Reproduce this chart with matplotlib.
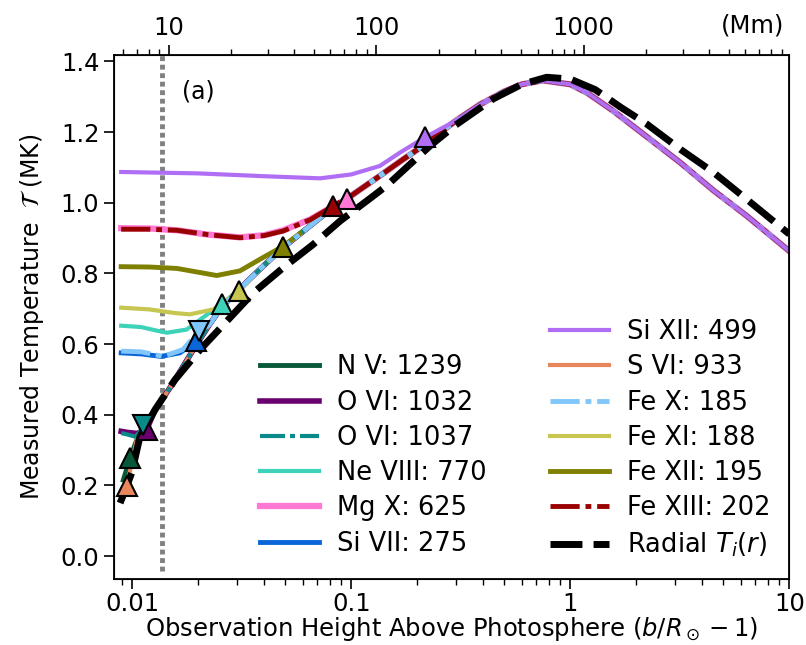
import matplotlib
matplotlib.use('Agg')
import matplotlib.pyplot as plt
from matplotlib.lines import Line2D

# common path of the ion lines once they have joined (b/R - 1, MK)
tail_x = [0.0090, 0.0094, 0.00976, 0.0105, 0.0114, 0.0127, 0.015, 0.019, 0.0225, 0.0256,
          0.0308, 0.038, 0.0486, 0.065, 0.0828, 0.1, 0.135, 0.17, 0.217, 0.3, 0.387, 0.5,
          0.6, 0.75, 1.0, 1.2, 1.57, 2.2, 3.17, 4.5, 6.38, 10.0]
tail_y = [0.160, 0.197, 0.277, 0.330, 0.367, 0.413, 0.480, 0.584, 0.655, 0.705,
          0.755, 0.810, 0.872, 0.935, 0.987, 1.020, 1.076, 1.120, 1.165, 1.232, 1.278, 1.315,
          1.335, 1.346, 1.335, 1.310, 1.260, 1.190, 1.114, 1.035, 0.963, 0.863]

# radial T_i(r)
radial_x = [0.0088, 0.0091, 0.00994, 0.01084, 0.0127, 0.01567, 0.0204, 0.0279, 0.0357, 0.0489,
            0.067, 0.0888, 0.126, 0.145, 0.229, 0.3, 0.445, 0.6, 0.78, 1.0, 1.3, 1.7, 2.23,
            3.2, 4.5, 6.38, 10.0]
radial_y = [0.150, 0.173, 0.235, 0.338, 0.414, 0.499, 0.584, 0.674, 0.745, 0.816,
            0.882, 0.948, 1.019, 1.048, 1.161, 1.220, 1.294, 1.335, 1.355, 1.350, 1.320, 1.270, 1.223,
            1.150, 1.086, 1.010, 0.911]

# low-height part of every line, last point = marker
nv_x = [0.0091, 0.00976]
nv_y = [0.215, 0.277]
ovi1032_x = [0.0089, 0.0095, 0.0105, 0.01162]
ovi1032_y = [0.353, 0.350, 0.347, 0.357]
ovi1037_x = [0.0089, 0.0095, 0.0103, 0.0108, 0.01122]
ovi1037_y = [0.348, 0.344, 0.338, 0.350, 0.372]
neviii_x = [0.0089, 0.011, 0.0125, 0.0144, 0.0177, 0.0226, 0.0256]
neviii_y = [0.652, 0.648, 0.640, 0.632, 0.641, 0.689, 0.712]
mgx_x = [0.0089, 0.012, 0.016, 0.022, 0.031, 0.04, 0.0489, 0.065, 0.0828, 0.0953]
mgx_y = [0.928, 0.927, 0.922, 0.910, 0.902, 0.908, 0.922, 0.953, 0.990, 1.010]
sivii_x = [0.0089, 0.011, 0.0135, 0.0165, 0.0195]
sivii_y = [0.575, 0.572, 0.565, 0.575, 0.608]
sixii_x = [0.0089, 0.02, 0.04, 0.072, 0.1, 0.135, 0.167, 0.217]
sixii_y = [1.087, 1.083, 1.075, 1.069, 1.080, 1.104, 1.142, 1.185]
svi_x = [0.0091, 0.00942]
svi_y = [0.165, 0.197]
fex_x = [0.0089, 0.011, 0.0138, 0.017, 0.0202]
fex_y = [0.580, 0.578, 0.565, 0.584, 0.636]
fexi_x = [0.0089, 0.012, 0.0155, 0.0183, 0.0234, 0.0308]
fexi_y = [0.703, 0.698, 0.688, 0.684, 0.698, 0.750]
fexii_x = [0.0089, 0.012, 0.016, 0.0243, 0.031, 0.0383, 0.0486]
fexii_y = [0.819, 0.818, 0.814, 0.794, 0.807, 0.840, 0.876]
fexiii_x = [0.0089, 0.012, 0.016, 0.022, 0.031, 0.04, 0.0489, 0.065, 0.0828]
fexiii_y = [0.925, 0.925, 0.922, 0.910, 0.901, 0.907, 0.920, 0.952, 0.991]

obs_limit = 0.0137   # dotted line

dd = (0, (6, 1.2, 1.2, 1.2))
# label, head x, head y, color, linestyle, lw, marker, zorder
lines = [
    ('N V: 1239', nv_x, nv_y, '#08583a', '-', 3.5, '^', 2),
    ('O VI: 1032', ovi1032_x, ovi1032_y, '#6a0070', '-', 4.0, '^', 2),
    ('O VI: 1037', ovi1037_x, ovi1037_y, '#0b8a8a', dd, 3.0, 'v', 2.1),
    ('Ne VIII: 770', neviii_x, neviii_y, '#3ed2b8', '-', 3.0, '^', 2),
    ('Mg X: 625', mgx_x, mgx_y, '#ff78d4', '-', 4.5, '^', 2),
    ('Si VII: 275', sivii_x, sivii_y, '#0a66d8', '-', 3.5, '^', 2),
    ('Si XII: 499', sixii_x, sixii_y, '#b06ef5', '-', 3.0, '^', 2.5),
    ('S VI: 933', svi_x, svi_y, '#e8865c', '-', 3.0, '^', 2),
    ('Fe X: 185', fex_x, fex_y, '#80c6fa', dd, 3.5, 'v', 2.1),
    ('Fe XI: 188', fexi_x, fexi_y, '#c6c650', '-', 3.0, '^', 2),
    ('Fe XII: 195', fexii_x, fexii_y, '#7f7f00', '-', 3.5, '^', 2),
    ('Fe XIII: 202', fexiii_x, fexiii_y, '#990000', dd, 3.5, '^', 2.2),
]

fig = plt.figure(figsize=(8.06, 6.45), dpi=100)
ax = fig.add_axes([0.1414, 0.1023, 0.8379, 0.8124])

handles = [Line2D([], [], color='none', label=' ')]
for lab, hx, hy, col, ls, lw, mk, zo in lines:
    xs = list(hx) + [x for x in tail_x if x > hx[-1] * 1.04]
    ys = list(hy) + [y for x, y in zip(tail_x, tail_y) if x > hx[-1] * 1.04]
    h, = ax.plot(xs, ys, color=col, ls=ls, lw=lw, label=lab, zorder=zo)
    ax.plot(hx[-1], hy[-1], marker=mk, ms=15, mfc=col, mec='k', mew=1.5, ls='none', zorder=6)
    handles.append(h)

hr, = ax.plot(radial_x, radial_y, color='k', lw=5, ls=(0, (4.6, 1.6)), zorder=5,
              label=r'Radial $T_i(r)$')
handles.append(hr)

ax.axvline(obs_limit, ymin=0.015, ymax=1, color='#808080', lw=3.5, ls=(0, (1, 0.75)), zorder=1)

ax.set_xscale('log')
ax.set_xlim(0.00825, 10)
ax.set_ylim(-0.065, 1.418)
ax.set_xticks([0.01, 0.1, 1, 10])
ax.set_xticklabels(['0.01', '0.1', '1', '10'])
ax.set_yticks([0.0, 0.2, 0.4, 0.6, 0.8, 1.0, 1.2, 1.4])
ax.set_yticklabels(['0.0', '0.2', '0.4', '0.6', '0.8', '1.0', '1.2', '1.4'])
ax.tick_params(which='major', length=7, width=1.2, labelsize=17.5)
ax.tick_params(which='minor', length=4, width=1.0)
ax.tick_params(axis='x', pad=2.5)
for s in ax.spines.values():
    s.set_linewidth(1.3)
ax.set_xlabel(r'Observation Height Above Photosphere ($b/R_\odot-1$)', fontsize=17.5, labelpad=-1)
ax.set_ylabel(r'Measured Temperature  $\mathcal{T}$ (MK)', fontsize=17, labelpad=10.5)
ax.text(0.1, 0.93, '(a)', transform=ax.transAxes, fontsize=17, va='center')

ax2 = ax.twiny()
ax2.set_xscale('log')
ax2.set_xlim(5.45, 9790)
ax2.set_xticks([10, 100, 1000])
ax2.set_xticklabels(['10', '100', '1000'])
ax2.tick_params(which='major', length=7, width=1.2, labelsize=17.5)
ax2.tick_params(which='minor', length=4, width=1.0)
ax.text(0.946, 1.057, '(Mm)', transform=ax.transAxes, fontsize=17.5, ha='center', va='center')

ax.legend(handles=handles, ncol=2, loc='lower left', bbox_to_anchor=(0.2162, 0.038),
          frameon=False, fontsize=18.5, handlelength=2.29, handletextpad=0.7,
          columnspacing=2.47, labelspacing=0.36, borderaxespad=0, borderpad=0)

fig.savefig('out.png', dpi=100)
